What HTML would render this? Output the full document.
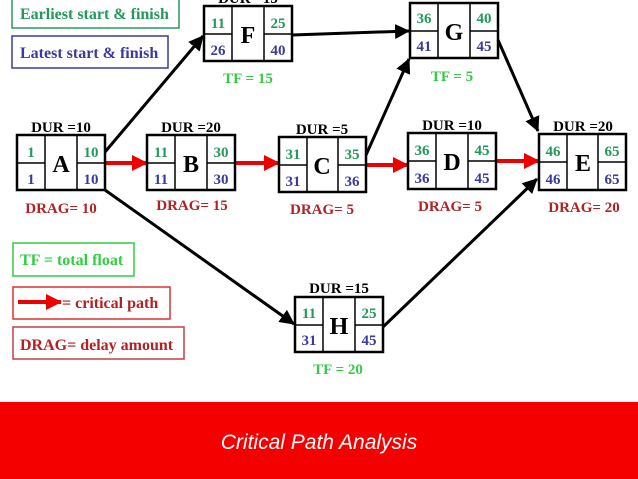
<!DOCTYPE html>
<html><head><meta charset="utf-8"><style>
body{margin:0;width:638px;height:479px;overflow:hidden;background:#fff}
svg{display:block;font-family:"Liberation Serif",serif;font-weight:bold}
.g{fill:#23985a;font-size:15px}.b{fill:#3a3a9a;font-size:15px}
.l{font-size:24px;fill:#000}.d{font-size:15px;fill:#000}
.tf{fill:#33cc44;font-size:15px}.dr{fill:#b22222;font-size:15px}
</style></head><body>
<svg width="638" height="479" viewBox="0 0 638 479">
<defs>
<marker id="ab" markerWidth="15" markerHeight="15" refX="14" refY="7.5" orient="auto" markerUnits="userSpaceOnUse" viewBox="0 0 15 15"><path d="M0,0L15,7.5L0,15z" fill="#000"/></marker>
<marker id="ar" markerWidth="16" markerHeight="16" refX="15" refY="8" orient="auto" markerUnits="userSpaceOnUse" viewBox="0 0 16 16"><path d="M0,0L16,8L0,16z" fill="#e00"/></marker>
</defs>
<!-- legend -->
<rect x="12" y="-2" width="167" height="30" fill="none" stroke="#2a9a5a" stroke-width="1.5"/>
<text x="20" y="19" class="g" style="font-size:16px">Earliest start &amp; finish</text>
<rect x="12" y="36" width="156" height="32" fill="none" stroke="#3a3a9a" stroke-width="1.5"/>
<text x="20" y="58" class="b" style="font-size:16px">Latest start &amp; finish</text>
<rect x="13" y="243" width="121" height="33" fill="none" stroke="#33cc44" stroke-width="1.5"/>
<text x="20" y="265" class="tf" style="font-size:16px">TF = total float</text>
<rect x="13" y="287" width="157" height="32" fill="none" stroke="#e03030" stroke-width="1.5"/>
<line x1="18" y1="302" x2="61" y2="302" stroke="#e00" stroke-width="4" marker-end="url(#ar)"/>
<text x="62" y="308" class="dr" style="font-size:16px">= critical path</text>
<rect x="13" y="327" width="171" height="32" fill="none" stroke="#c04040" stroke-width="1.5"/>
<text x="20" y="350" class="dr" style="font-size:16px">DRAG= delay amount</text>
<!-- connectors -->
<g stroke="#000" stroke-width="3" fill="none">
<line x1="105" y1="152" x2="203" y2="36" marker-end="url(#ab)"/>
<line x1="292" y1="35" x2="409" y2="31" marker-end="url(#ab)"/>
<line x1="366" y1="155" x2="409" y2="59" marker-end="url(#ab)"/>
<line x1="498" y1="40" x2="538" y2="131" marker-end="url(#ab)"/>
<line x1="105" y1="190" x2="294" y2="324" marker-end="url(#ab)"/>
<line x1="383" y1="327" x2="537" y2="179" marker-end="url(#ab)"/>
</g>
<g stroke="#e00" stroke-width="4">
<line x1="106" y1="163" x2="147" y2="163" marker-end="url(#ar)"/>
<line x1="236" y1="163" x2="279" y2="163" marker-end="url(#ar)"/>
<line x1="367" y1="165" x2="408" y2="165" marker-end="url(#ar)"/>
<line x1="497" y1="161" x2="539" y2="161" marker-end="url(#ar)"/>
</g>
<!-- nodes -->
<g fill="none" stroke="#000" stroke-width="2.5">
<rect x="17" y="135" width="88" height="55"/><path d="M45,135V190M77,135V190M17,163H45M77,163H105" stroke-width="1.5"/>
<rect x="147" y="135" width="88" height="55"/><path d="M175,135V190M207,135V190M147,163H175M207,163H235" stroke-width="1.5"/>
<rect x="279" y="137" width="87" height="55"/><path d="M307,137V192M338,137V192M279,165H307M338,165H366" stroke-width="1.5"/>
<rect x="408" y="133" width="88" height="56"/><path d="M436,133V189M468,133V189M408,161H436M468,161H496" stroke-width="1.5"/>
<rect x="539" y="134" width="87" height="56"/><path d="M567,134V190M598,134V190M539,162H567M598,162H626" stroke-width="1.5"/>
<rect x="204" y="6" width="88" height="55"/><path d="M232,6V61M264,6V61M204,34H232M264,34H292" stroke-width="1.5"/>
<rect x="410" y="3" width="88" height="55"/><path d="M438,3V58M470,3V58M410,31H438M470,31H498" stroke-width="1.5"/>
<rect x="295" y="297" width="88" height="55"/><path d="M323,297V352M355,297V352M295,325H323M355,325H383" stroke-width="1.5"/>
</g>
<g text-anchor="middle">
<text x="61" y="132" class="d">DUR =10</text>
<text x="31" y="157" class="g">1</text><text x="31" y="184" class="b">1</text>
<text x="61" y="172" class="l">A</text>
<text x="91" y="157" class="g">10</text><text x="91" y="184" class="b">10</text>
<text x="61" y="213" class="dr">DRAG= 10</text>
<text x="191" y="132" class="d">DUR =20</text>
<text x="161" y="157" class="g">11</text><text x="161" y="184" class="b">11</text>
<text x="191" y="172" class="l">B</text>
<text x="221" y="157" class="g">30</text><text x="221" y="184" class="b">30</text>
<text x="192" y="210" class="dr">DRAG= 15</text>
<text x="322" y="134" class="d">DUR =5</text>
<text x="293" y="159" class="g">31</text><text x="293" y="186" class="b">31</text>
<text x="322" y="174" class="l">C</text>
<text x="352" y="159" class="g">35</text><text x="352" y="186" class="b">36</text>
<text x="322" y="214" class="dr">DRAG= 5</text>
<text x="452" y="130" class="d">DUR =10</text>
<text x="422" y="155" class="g">36</text><text x="422" y="183" class="b">36</text>
<text x="452" y="170" class="l">D</text>
<text x="482" y="155" class="g">45</text><text x="482" y="183" class="b">45</text>
<text x="450" y="211" class="dr">DRAG= 5</text>
<text x="583" y="131" class="d">DUR =20</text>
<text x="553" y="156" class="g">46</text><text x="553" y="184" class="b">46</text>
<text x="583" y="171" class="l">E</text>
<text x="612" y="156" class="g">65</text><text x="612" y="184" class="b">65</text>
<text x="584" y="212" class="dr">DRAG= 20</text>
<text x="248" y="3" class="d">DUR =15</text>
<text x="218" y="28" class="g">11</text><text x="218" y="55" class="b">26</text>
<text x="248" y="43" class="l">F</text>
<text x="278" y="28" class="g">25</text><text x="278" y="55" class="b">40</text>
<text x="248" y="83" class="tf">TF = 15</text>
<text x="424" y="23" class="g">36</text><text x="424" y="51" class="b">41</text>
<text x="454" y="40" class="l">G</text>
<text x="484" y="23" class="g">40</text><text x="484" y="51" class="b">45</text>
<text x="452" y="81" class="tf">TF = 5</text>
<text x="339" y="293" class="d">DUR =15</text>
<text x="309" y="318" class="g">11</text><text x="309" y="345" class="b">31</text>
<text x="339" y="334" class="l">H</text>
<text x="369" y="318" class="g">25</text><text x="369" y="345" class="b">45</text>
<text x="338" y="374" class="tf">TF = 20</text>
</g>
<rect x="0" y="402" width="638" height="77" fill="#f40000"/>
<text x="319" y="449" text-anchor="middle" fill="#fff" style="font-family:'Liberation Sans',sans-serif;font-weight:normal;font-style:italic;font-size:21px">Critical Path Analysis</text>
</svg>
</body></html>
